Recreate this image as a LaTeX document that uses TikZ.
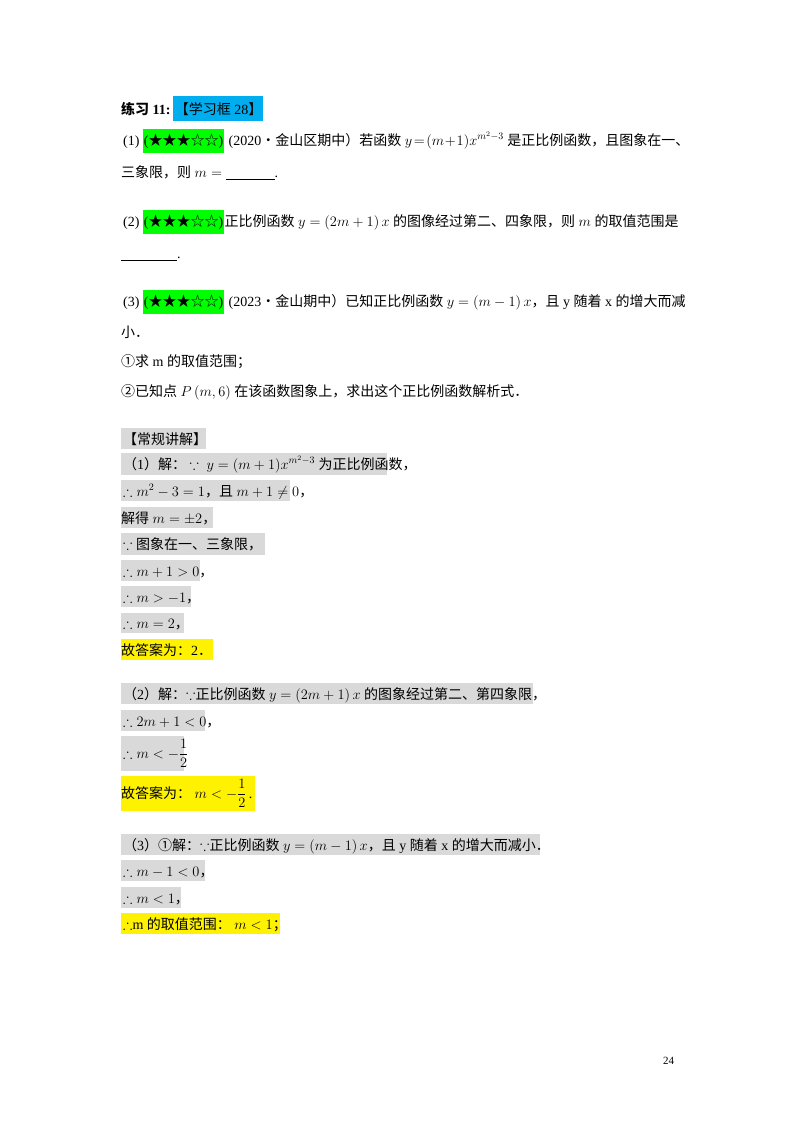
\documentclass[tikz,border=0pt]{standalone}
\usepackage{amsmath,amssymb}
\usepackage{fontspec}
\setmainfont{Liberation Serif}
\newfontfamily\cjk{Noto Sans CJK SC}
\newcommand{\zh}[1]{{\cjk #1}}
\usetikzlibrary{positioning}
\tikzset{
  txt/.style={anchor=base west, inner sep=0pt, font=\fontsize{14}{17}\selectfont},
  seg/.style={inner sep=0pt, font=\fontsize{14}{17}\selectfont, anchor=base west},
  gbox/.style={fill=gray!30, draw=none},
  ybox/.style={fill=yellow, draw=none},
  star/.style={seg, fill=green, inner ysep=5pt, inner xsep=1pt},
}
\begin{document}
\begin{tikzpicture}[x=1pt, y=-1pt]
  \useasboundingbox (0,0) rectangle (800,1132);
  % Title
  \fill[cyan] (173,96) rectangle (263,121);
  \node[txt] (t0) at (121,114) {\textbf{\zh{练习} 11:}};
  \node[seg, right=4pt of t0.base east, anchor=base west] (t1) {\zh{【学习框} 28\zh{】}};
  % Question 1
  \node[txt] (q1a) at (123,145) {(1)};
  \node[star, right=3pt of q1a.base east, anchor=base west] (q1b) {(\zh{★★★☆☆})};
  \node[seg, right=4pt of q1b.base east, anchor=base west] (q1c) {(2020\zh{•金山区期中）若函数} $y\!=\!(m\!+\!1)x^{m^2-3}$ \zh{是正比例函数，且图象在一、}};
  \node[txt] (q1d) at (121,177) {\zh{三象限，则} $m=$ \underline{\hspace{3.5em}}.};
  % Question 2
  \node[txt] (q2a) at (123,226) {(2)};
  \node[star, right=3pt of q2a.base east, anchor=base west] (q2b) {(\zh{★★★☆☆})};
  \node[seg, right=0pt of q2b.base east, anchor=base west] (q2c) {\zh{正比例函数} $y=\left(2m+1\right)x$ \zh{的图像经过第二、四象限，则} $m$ \zh{的取值范围是}};
  \node[txt] (q2d) at (121,258) {\underline{\hspace{4em}}.};
  % Question 3
  \node[txt] (q3a) at (123,306) {(3)};
  \node[star, right=3pt of q3a.base east, anchor=base west] (q3b) {(\zh{★★★☆☆})};
  \node[seg, right=4pt of q3b.base east, anchor=base west] (q3c) {(2023\zh{•金山期中）已知正比例函数} $y=\left(m-1\right)x$\zh{，且} y \zh{随着} x \zh{的增大而减}};
  \node[txt] (q3d) at (121,337) {\zh{小．}};
  \node[txt] (q3e) at (121,366) {\zh{①求} m \zh{的取值范围；}};
  \node[txt] (q3f) at (121,396) {\zh{②已知点} $P\left(m,6\right)$ \zh{在该函数图象上，求出这个正比例函数解析式．}};
  % Answer boxes
  \foreach \ya/\xb/\yb in {428/206/449, 453/387/475, 480/290/501, 507/213/528, 533/265/555,
      560/200/581, 586/191/607, 613/184/633, 683/533/704, 710/205/731, 736/184/771,
      834/540/855, 860/205/881, 887/181/908}
    \fill[gbox] (121,\ya) rectangle (\xb,\yb);
  \foreach \ya/\xb/\yb in {639/213/660, 776/255/811, 913/280/934}
    \fill[ybox] (121,\ya) rectangle (\xb,\yb);
  % Answer texts
  \node[txt] (s0) at (123,444) {\zh{【常规讲解】}};
  \node[txt] (s1) at (123,469) {\zh{（}1\zh{）解：} $\because\ y=(m+1)x^{m^2-3}$ \zh{为正比例函数，}};
  \node[txt] (s2) at (123,496) {$\therefore m^2-3=1$\zh{，且} $m+1\neq0$\zh{，}};
  \node[txt] (s3) at (121,523) {\zh{解得} $m=\pm2$\zh{，}};
  \node[txt] (s4) at (123,549) {$\because$ \zh{图象在一、三象限，}};
  \node[txt] (s5) at (123,576) {$\therefore m+1>0$\zh{，}};
  \node[txt] (s6) at (123,602) {$\therefore m>-1$\zh{，}};
  \node[txt] (s7) at (123,628) {$\therefore m=2$\zh{，}};
  \node[txt] (s8) at (121,655) {\zh{故答案为：}2\zh{．}};
  \node[txt] (s9) at (123,699) {\zh{（}2\zh{）解：}$\because$\zh{正比例函数} $y=\left(2m+1\right)x$ \zh{的图象经过第二、第四象限，}};
  \node[txt] (s10) at (123,726) {$\therefore 2m+1<0$\zh{，}};
  \node[txt] (s11) at (123,758) {$\therefore m<-\dfrac{1}{2}$};
  \node[txt] (s12) at (121,798) {\zh{故答案为：} $m<-\dfrac{1}{2}$\,.};
  \node[txt] (s13) at (123,850) {\zh{（}3\zh{）①解：}$\because$\zh{正比例函数} $y=\left(m-1\right)x$\zh{，且} y \zh{随着} x \zh{的增大而减小．}};
  \node[txt] (s14) at (123,876) {$\therefore m-1<0$\zh{，}};
  \node[txt] (s15) at (123,903) {$\therefore m<1$\zh{，}};
  \node[txt] (s16) at (123,929) {$\therefore$m \zh{的取值范围：} $m<1$\zh{；}};
  % Page number
  \node[txt, font=\fontsize{11}{13}\selectfont] (pg) at (663,1064) {24};
\end{tikzpicture}
\end{document}
